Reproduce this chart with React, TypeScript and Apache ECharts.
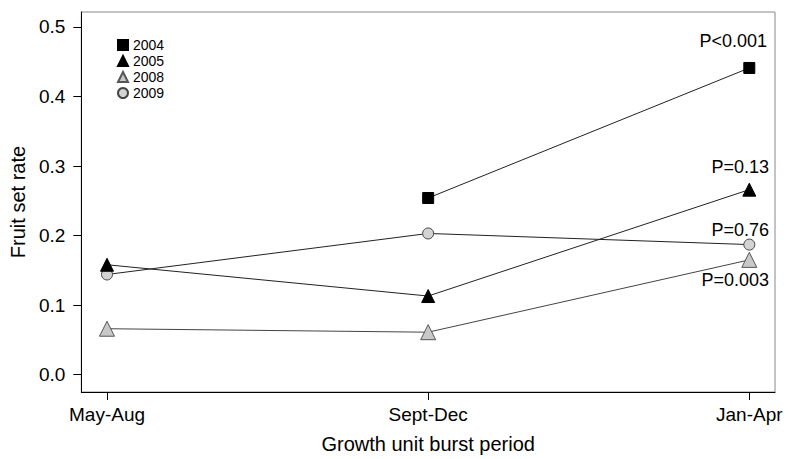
import React, { useEffect, useRef } from "react";
import * as echarts from "echarts";

const categories = ["May-Aug", "Sept-Dec", "Jan-Apr"];
const yTicks = [0, 0.1, 0.2, 0.3, 0.4, 0.5];
const s2004: [number, number][] = [[1, 0.254], [2, 0.441]];
const s2005: [number, number][] = [[0, 0.158], [1, 0.113], [2, 0.266]];
const s2008: [number, number][] = [[0, 0.066], [1, 0.061], [2, 0.165]];
const s2009: [number, number][] = [[0, 0.144], [1, 0.203], [2, 0.187]];
const pLabels = { "2004": "P<0.001", "2005": "P=0.13", "2009": "P=0.76", "2008": "P=0.003" };

const FONT = "'Liberation Sans', Arial, sans-serif";

function withLabel(data: [number, number][], text: string, offset: [number, number]) {
  return data.map((d, i) =>
    i === data.length - 1
      ? {
          value: d,
          label: {
            show: true,
            position: "inside",
            formatter: text,
            offset,
            color: "#000",
            fontSize: 18,
            fontFamily: FONT,
          },
        }
      : { value: d }
  );
}

export default function App() {
  const ref = useRef<HTMLDivElement>(null);
  useEffect(() => {
    if (!ref.current) return;
    const chart = echarts.init(ref.current, null, { renderer: "svg" });
    const lineStyle = { color: "#222", width: 1 };
    chart.setOption({
      animation: false,
      backgroundColor: "#fff",
      textStyle: { fontFamily: FONT },
      grid: {
        left: 80,
        right: 13,
        top: 12,
        bottom: 66,
        show: true,
        borderColor: "#888",
        borderWidth: 1,
      },
      legend: {
        orient: "vertical",
        left: 117,
        top: 38,
        padding: 0,
        itemWidth: 10,
        itemHeight: 10,
        itemGap: 2,
        textStyle: { fontSize: 14, color: "#000", fontFamily: FONT },
        data: [
          { name: "2004", icon: "rect" },
          { name: "2005", icon: "triangle" },
          { name: "2008", icon: "triangle" },
          { name: "2009", icon: "circle" },
        ],
      },
      xAxis: {
        type: "value",
        min: -0.08,
        max: 2.08,
        name: "Growth unit burst period",
        nameLocation: "middle",
        nameGap: 42,
        nameTextStyle: { fontSize: 20, color: "#000", fontFamily: FONT },
        axisLine: { onZero: false, lineStyle: { color: "#000", width: 1 } },
        axisTick: { show: true, length: 8, lineStyle: { color: "#000" }, customValues: [0, 1, 2] },
        axisLabel: {
          customValues: [0, 1, 2],
          formatter: (v: number) => categories[Math.round(v)] ?? "",
          fontSize: 19,
          color: "#000",
          margin: 13,
          fontFamily: FONT,
        },
        splitLine: { show: false },
      },
      yAxis: {
        type: "value",
        min: -0.025,
        max: 0.5215,
        name: "Fruit set rate",
        nameLocation: "middle",
        nameGap: 51,
        nameTextStyle: { fontSize: 20, color: "#000", fontFamily: FONT },
        axisLine: { show: true, onZero: false, lineStyle: { color: "#000", width: 1 } },
        axisTick: { show: true, length: 8, lineStyle: { color: "#000" }, customValues: yTicks },
        axisLabel: {
          customValues: yTicks,
          formatter: (v: number) => v.toFixed(1),
          fontSize: 19,
          color: "#000",
          margin: 16,
          fontFamily: FONT,
        },
        splitLine: { show: false },
      },
      series: [
        {
          name: "2004",
          type: "line",
          data: withLabel(s2004, pLabels["2004"], [-16, -27]),
          symbol: "rect",
          symbolSize: 11,
          lineStyle,
          itemStyle: { color: "#000", borderColor: "#000", borderWidth: 1 },
          z: 5,
        },
        {
          name: "2005",
          type: "line",
          data: withLabel(s2005, pLabels["2005"], [-9, -23]),
          symbol: "triangle",
          symbolSize: 13,
          lineStyle,
          itemStyle: { color: "#000", borderColor: "#000", borderWidth: 1 },
          z: 5,
        },
        {
          name: "2008",
          type: "line",
          data: withLabel(s2008, pLabels["2008"], [-14, 20]),
          symbol: "triangle",
          symbolSize: 15,
          lineStyle: { color: "#444", width: 1 },
          itemStyle: { color: "#c8c8c8", borderColor: "#555", borderWidth: 1 },
          z: 4,
        },
        {
          name: "2009",
          type: "line",
          data: withLabel(s2009, pLabels["2009"], [-9, -15]),
          symbol: "circle",
          symbolSize: 11,
          lineStyle,
          itemStyle: { color: "#d3d3d3", borderColor: "#444", borderWidth: 1 },
          z: 4,
        },
      ],
    });
    return () => chart.dispose();
  }, []);
  return <div ref={ref} style={{ width: 788, height: 459, position: "absolute", left: 0, top: 0 }} />;
}
